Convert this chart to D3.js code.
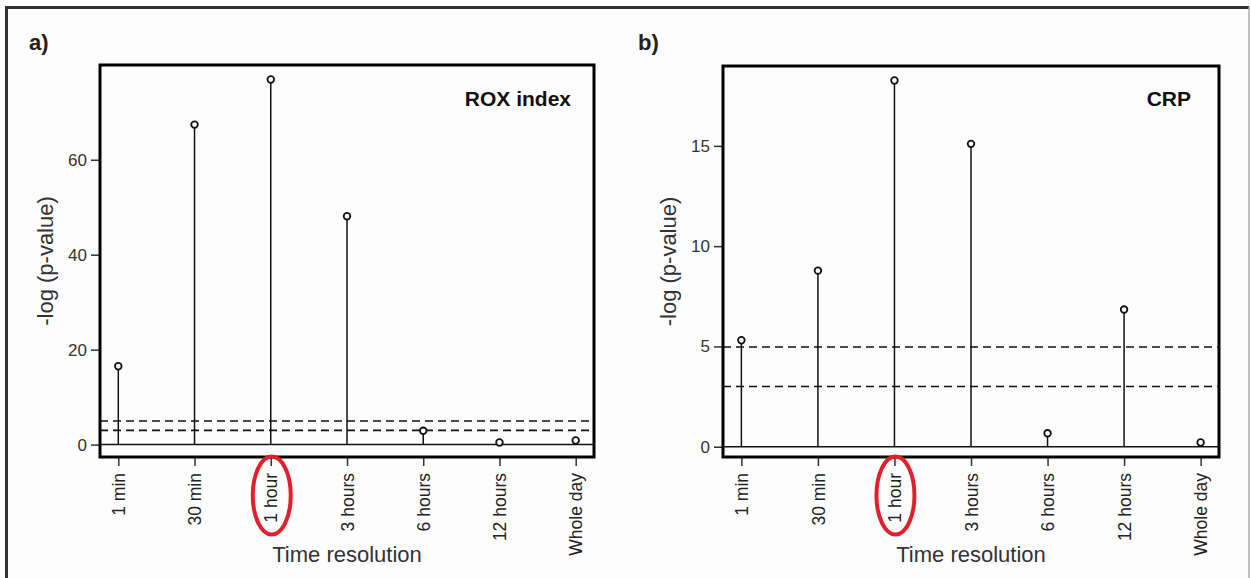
<!DOCTYPE html>
<html>
<head>
<meta charset="utf-8">
<script src="https://cdn.jsdelivr.net/npm/d3@7"></script>
<style>
  body { margin: 0; background: #fff; }
  svg { display: block; font-family: 'Liberation Sans', Arial, sans-serif; }
</style>
</head>
<body>
<svg id="chart" width="1251" height="578"></svg>
<script>
// time resolutions on the x axis (same for both panels)
const resolutions = ['1 min', '30 min', '1 hour', '3 hours', '6 hours', '12 hours', 'Whole day']
// -log(p-value)
const roxValues = [16.5, 67.4, 76.9, 48.1, 2.9, 0.44, 0.86]
const crpValues = [5.31, 8.78, 18.26, 15.1, 0.67, 6.84, 0.21]
// dashed significance lines: -log(0.05) and -log(0.05 / 7)
const thresholds = [3.0, 4.97]
const roxTicks = [0, 20, 40, 60]
const crpTicks = [0, 5, 10, 15]
const highlighted = '1 hour'

const svg = d3.select('#chart')

// outer box of the figure
svg.append('rect')
  .attr('x', 6.5).attr('y', 7.5)
  .attr('width', 1242).attr('height', 620)
  .attr('fill', '#fdfdfd')
  .attr('stroke', 'none')
svg.append('path')
  .attr('d', 'M6.5,590V7.5H1249')
  .attr('fill', 'none')
  .attr('stroke', '#333')
  .attr('stroke-width', 3)
svg.append('line')
  .attr('x1', 1249).attr('x2', 1249)
  .attr('y1', 7).attr('y2', 578)
  .attr('stroke', '#aaa')
  .attr('stroke-width', 1.5)

function drawPanel(opts) {
  const { left, right, top, bottom, values, ticks, letter, letterX, title, titleX } = opts
  const g = svg.append('g')

  // R style 4% padding around the data range
  const idx = values.map((d, i) => i + 1)
  const x = d3.scaleLinear()
    .domain([1 - 0.24, 7 + 0.24])
    .range([left, right])
  const lo = d3.min(values), hi = d3.max(values)
  const pad = (hi - lo) * 0.04
  const y = d3.scaleLinear()
    .domain([lo - pad, hi + pad])
    .range([bottom, top])

  // y axis
  const yAxis = d3.axisLeft(y).tickValues(ticks).tickSize(9).tickPadding(4)
  g.append('g')
    .attr('transform', `translate(${left},0)`)
    .call(yAxis)
    .call((a) => a.select('.domain').remove())
    .call((a) => a.selectAll('line').attr('stroke', '#333').attr('stroke-width', 1.5))
    .call((a) => a.selectAll('text')
      .attr('fill', '#333')
      .style('font-size', '17px')
      .style('font-family', "'Liberation Sans', Arial, sans-serif"))

  // x axis with rotated labels
  const xAxis = d3.axisBottom(x)
    .tickValues(idx)
    .tickFormat((d) => resolutions[d - 1])
    .tickSize(9)
    .tickPadding(6)
  g.append('g')
    .attr('transform', `translate(0,${bottom})`)
    .call(xAxis)
    .call((a) => a.select('.domain').remove())
    .call((a) => a.selectAll('line').attr('stroke', '#333').attr('stroke-width', 1.5))
    .call((a) => a.selectAll('text')
      .attr('fill', '#222')
      .attr('transform', 'rotate(-90)')
      .attr('text-anchor', 'end')
      .attr('x', -16)
      .attr('y', 0)
      .attr('dy', '0.35em')
      .style('font-size', '17.5px')
      .style('font-family', "'Liberation Sans', Arial, sans-serif"))

  // dashed thresholds
  g.selectAll('line.thr')
    .data(thresholds)
    .join('line')
    .attr('class', 'thr')
    .attr('x1', left).attr('x2', right)
    .attr('y1', (d) => y(d)).attr('y2', (d) => y(d))
    .attr('stroke', '#111')
    .attr('stroke-width', 1.6)
    .attr('stroke-dasharray', '8,5')

  // zero line
  g.append('line')
    .attr('x1', left).attr('x2', right)
    .attr('y1', y(0)).attr('y2', y(0))
    .attr('stroke', '#111')
    .attr('stroke-width', 1.5)

  // stems
  g.selectAll('line.stem')
    .data(values)
    .join('line')
    .attr('class', 'stem')
    .attr('x1', (d, i) => x(i + 1)).attr('x2', (d, i) => x(i + 1))
    .attr('y1', y(0)).attr('y2', (d) => y(d))
    .attr('stroke', '#111')
    .attr('stroke-width', 1.5)

  // points
  g.selectAll('circle.pt')
    .data(values)
    .join('circle')
    .attr('class', 'pt')
    .attr('cx', (d, i) => x(i + 1))
    .attr('cy', (d) => y(d))
    .attr('r', 3.3)
    .attr('fill', '#fff')
    .attr('stroke', '#111')
    .attr('stroke-width', 1.8)

  // frame
  g.append('rect')
    .attr('x', left).attr('y', top)
    .attr('width', right - left).attr('height', bottom - top)
    .attr('fill', 'none')
    .attr('stroke', '#000')
    .attr('stroke-width', 3)

  // axis titles
  g.append('text')
    .attr('transform', `translate(${left - 55},${(top + bottom) / 2}) rotate(-90)`)
    .attr('text-anchor', 'middle')
    .attr('dy', '0.35em')
    .attr('fill', '#333')
    .style('font-size', '22px')
    .text('-log (p-value)')

  g.append('text')
    .attr('x', (left + right) / 2)
    .attr('y', 562)
    .attr('text-anchor', 'middle')
    .attr('fill', '#333')
    .style('font-size', '22px')
    .text('Time resolution')

  // panel letter and title
  g.append('text')
    .attr('x', letterX).attr('y', 50)
    .attr('fill', '#222')
    .style('font-size', '22px')
    .style('font-weight', 'bold')
    .text(letter)

  g.append('text')
    .attr('x', titleX).attr('y', 106)
    .attr('text-anchor', 'end')
    .attr('fill', '#111')
    .style('font-size', '21px')
    .style('font-weight', 'bold')
    .text(title)

  // red ellipse around the highlighted label
  const hx = x(resolutions.indexOf(highlighted) + 1)
  g.append('ellipse')
    .attr('cx', hx + 1).attr('cy', 495.5)
    .attr('rx', 19).attr('ry', 39)
    .attr('fill', 'none')
    .attr('stroke', '#e0202a')
    .attr('stroke-width', 4)
}

drawPanel({
  left: 100, right: 594, top: 65, bottom: 457,
  values: roxValues, ticks: roxTicks,
  letter: 'a)', letterX: 29, title: 'ROX index', titleX: 571
})

drawPanel({
  left: 723, right: 1219, top: 66, bottom: 457,
  values: crpValues, ticks: crpTicks,
  letter: 'b)', letterX: 638, title: 'CRP', titleX: 1191
})
</script>
</body>
</html>
